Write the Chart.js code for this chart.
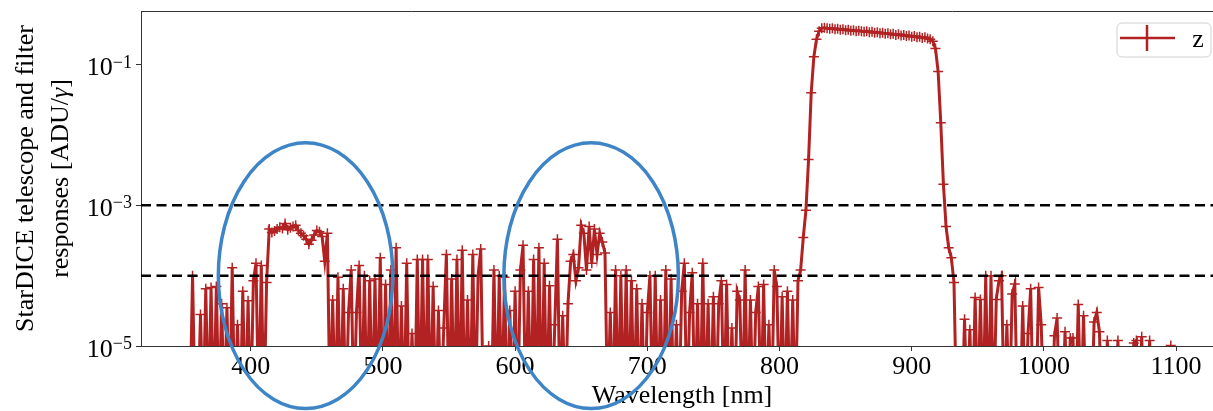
<!DOCTYPE html>
<html>
<head>
<meta charset="utf-8">
<script src="https://cdn.jsdelivr.net/npm/chart.js@4.4.0/dist/chart.umd.min.js"></script>
<style>
  html, body { margin: 0; padding: 0; background: #fff; overflow: hidden; }
  #caja { width: 1224px; height: 411px; }
  #respuesta { display: block; width: 1224px; height: 411px; }
</style>
</head>
<body>
<div id="caja"><canvas id="respuesta" width="1224" height="411"></canvas></div>
<script>
// longitud de onda [nm]
const longitudes = [
    354, 356, 358, 360, 362, 364, 366, 368, 370, 372, 374, 376, 378, 380, 382, 384, 386, 388, 390, 392,
    394, 396, 398, 400, 402, 404, 406, 408, 410, 412, 414, 416, 418, 420, 422, 424, 426, 428, 430, 432,
    434, 436, 438, 440, 442, 444, 446, 448, 450, 452, 454, 456, 458, 460, 462, 464, 466, 468, 470, 472,
    474, 476, 478, 480, 482, 484, 486, 488, 490, 492, 494, 496, 498, 500, 502, 504, 506, 508, 510, 512,
    514, 516, 518, 520, 522, 524, 526, 528, 530, 532, 534, 536, 538, 540, 542, 544, 546, 548, 550, 552,
    554, 556, 558, 560, 562, 564, 566, 568, 570, 572, 574, 576, 578, 580, 582, 584, 586, 588, 590, 592,
    594, 596, 598, 600, 602, 604, 606, 608, 610, 612, 614, 616, 618, 620, 622, 624, 626, 628, 630, 632,
    634, 636, 638, 640, 642, 644, 646, 648, 650, 652, 654, 656, 658, 660, 662, 664, 666, 668, 670, 672,
    674, 676, 678, 680, 682, 684, 686, 688, 690, 692, 694, 696, 698, 700, 702, 704, 706, 708, 710, 712,
    714, 716, 718, 720, 722, 724, 726, 728, 730, 732, 734, 736, 738, 740, 742, 744, 746, 748, 750, 752,
    754, 756, 758, 760, 762, 764, 766, 768, 770, 772, 774, 776, 778, 780, 782, 784, 786, 788, 790, 792,
    794, 796, 798, 800, 802, 804, 806, 808, 810, 812, 814, 816, 818, 820, 822, 824, 826, 828, 830, 832,
    834, 836, 838, 840, 842, 844, 846, 848, 850, 852, 854, 856, 858, 860, 862, 864, 866, 868, 870, 872,
    874, 876, 878, 880, 882, 884, 886, 888, 890, 892, 894, 896, 898, 900, 902, 904, 906, 908, 910, 912,
    914, 916, 918, 920, 922, 924, 926, 928, 930, 932, 934, 936, 938, 940, 942, 944, 946, 948, 950, 952,
    954, 956, 958, 960, 962, 964, 966, 968, 970, 972, 974, 976, 978, 980, 982, 984, 986, 988, 990, 992,
    994, 996, 998, 1000, 1002, 1004, 1006, 1008, 1010, 1012, 1014, 1016, 1018, 1020, 1022, 1024, 1026, 1028, 1030, 1032,
    1034, 1036, 1038, 1040, 1042, 1044, 1046, 1048, 1050, 1052, 1054, 1056, 1058, 1060, 1062, 1064, 1066, 1068, 1070, 1072,
    1074, 1076, 1078, 1080, 1082, 1084, 1086, 1088, 1090, 1092, 1094, 1096, 1098
];

// respuesta telescopio + filtro z [ADU/gamma], 1e-6 = por debajo del eje
const respuestaZ = [
    1e-6, 1.0e-4, 1e-6, 1e-6, 2.8e-5, 1e-6, 6.5e-5, 1e-6, 6.8e-5, 1e-6, 7.0e-5, 1e-6, 4.0e-5, 1e-6, 3.5e-5, 1e-6, 1.3e-4, 1e-6, 2.0e-5, 1e-6,
    6.0e-5, 1e-6, 4.4e-5, 1e-6, 8.5e-5, 1.5e-4, 1e-6, 1.4e-4, 1e-6, 8.0e-5, 4.6e-4, 4.1e-4, 4.3e-4, 4.6e-4, 4.9e-4, 4.7e-4, 5.5e-4, 4.5e-4, 4.8e-4, 5.0e-4,
    5.2e-4, 4.4e-4, 4.0e-4, 3.7e-4, 3.3e-4, 2.8e-4, 3.2e-4, 3.8e-4, 4.4e-4, 4.2e-4, 3.6e-4, 1.6e-4, 4.0e-4, 1e-6, 4.5e-5, 1e-6, 9.5e-5, 1e-6, 6.5e-5, 1e-6,
    3.0e-5, 1.2e-4, 1e-6, 3.0e-5, 1.4e-4, 1e-6, 1.0e-4, 1e-6, 8.5e-5, 1e-6, 9.0e-5, 1e-6, 1.8e-4, 1e-6, 7.5e-5, 1e-6, 1.2e-4, 1e-6, 2.5e-4, 1e-6,
    3.7e-5, 1e-6, 1.5e-4, 1e-6, 1.5e-5, 1e-6, 1.7e-4, 1e-6, 1.7e-4, 1e-6, 1.7e-4, 1e-6, 7.0e-5, 1e-6, 3.2e-5, 1e-6, 1.8e-5, 2.0e-4, 1e-6, 9.0e-5,
    1e-6, 1.7e-4, 1e-6, 2.3e-4, 1e-6, 4.5e-5, 1e-6, 2.0e-4, 1e-6, 1.0e-4, 2.4e-4, 1e-6, 1e-6, 1.0e-5, 1e-6, 1.2e-4, 1e-6, 1.0e-4, 1e-6, 9.5e-5,
    1e-6, 3.2e-5, 1e-6, 6.0e-5, 1e-6, 1.2e-4, 2.7e-4, 1e-6, 6.0e-5, 1e-6, 1.7e-4, 1e-6, 2.5e-4, 1e-6, 1.5e-4, 1e-6, 7.2e-5, 1e-6, 2.0e-5, 3.3e-4,
    1e-6, 2.7e-5, 1e-6, 4.0e-5, 1.6e-4, 2.0e-4, 8.5e-5, 1.3e-4, 5.2e-4, 4.0e-4, 1.2e-4, 5.0e-4, 1.5e-4, 4.6e-4, 2.0e-4, 4.0e-4, 3.0e-4, 2.1e-4, 1e-6, 3.0e-5,
    1e-6, 1.2e-4, 1e-6, 1.0e-4, 1e-6, 1.2e-4, 1e-6, 8.5e-5, 1e-6, 6.5e-5, 1e-6, 4.0e-5, 1e-6, 3.0e-5, 1.0e-4, 1e-6, 1.0e-4, 1e-6, 4.5e-5, 1e-6,
    1.2e-4, 1e-6, 9.0e-5, 1e-6, 2.0e-5, 1e-6, 6.0e-5, 1.5e-4, 1e-6, 3.0e-5, 1.1e-4, 1e-6, 4.0e-5, 1e-6, 1.5e-4, 1e-6, 4.0e-5, 1e-6, 5.0e-5, 1e-6,
    4.0e-5, 8.5e-5, 1e-6, 7.5e-5, 1e-6, 1.8e-5, 1e-6, 6.0e-5, 4.5e-5, 1e-6, 1.2e-4, 1e-6, 4.5e-5, 1e-6, 3.0e-5, 7.0e-5, 1e-6, 7.5e-5, 1e-6, 2.0e-5,
    1e-6, 1.2e-4, 7.0e-5, 1e-6, 5.0e-5, 1e-6, 6.0e-5, 1e-6, 4.5e-5, 1e-6, 8.5e-5, 1.2e-4, 3.5e-4, 8.5e-4, 4.5e-3, 0.04, 0.13, 0.23, 0.30, 0.33,
    0.335, 0.33, 0.325, 0.33, 0.32, 0.325, 0.315, 0.32, 0.31, 0.315, 0.305, 0.31, 0.30, 0.305, 0.30, 0.295, 0.30, 0.29, 0.295, 0.285,
    0.29, 0.28, 0.285, 0.275, 0.28, 0.27, 0.275, 0.265, 0.27, 0.26, 0.265, 0.255, 0.26, 0.25, 0.255, 0.245, 0.25, 0.24, 0.245, 0.235,
    0.23, 0.215, 0.17, 0.08, 0.015, 2.0e-3, 5.0e-4, 2.5e-4, 1.8e-4, 8.0e-5, 1e-6, 1e-6, 1e-6, 2.4e-5, 1e-6, 1.7e-5, 1e-6, 4.9e-5, 1e-6, 4.6e-5,
    1e-6, 1.0e-4, 1e-6, 1.0e-4, 1e-6, 4.6e-5, 8.5e-5, 1.0e-4, 1e-6, 2.0e-5, 1e-6, 5.5e-5, 7.6e-5, 1e-6, 1e-6, 3.7e-5, 1e-6, 1.5e-5, 6.5e-5, 1e-6,
    1e-6, 6.8e-5, 2.0e-5, 1e-6, 1e-6, 1e-6, 1e-6, 1.4e-5, 2.5e-5, 1e-6, 1e-6, 1.6e-5, 1e-6, 1.3e-5, 1.3e-5, 1e-6, 3.9e-5, 1e-6, 2.7e-5, 1e-6,
    1e-6, 1e-6, 2.2e-5, 3.0e-5, 1.6e-5, 1e-6, 1e-6, 1.2e-5, 1e-6, 1e-6, 1e-6, 1.2e-5, 1e-6, 1e-6, 1e-6, 1e-6, 1e-6, 1.1e-5, 1.2e-5, 1e-6,
    1.35e-5, 1e-6, 1e-6, 1.2e-5, 1e-6, 1e-6, 1e-6, 1e-6, 1e-6, 1e-6, 1e-6, 1.02e-5, 1e-6
];

// lineas de corte discontinuas
const nivelesCorte = [1e-3, 1e-4];

const ticksX = [400, 500, 600, 700, 800, 900, 1000, 1100];
const ticksY = [1e-5, 1e-3, 1e-1];

const xMin = 317;
const xMax = 1135.5;

// zonas marcadas con elipse (centro y semiejes en unidades de los ejes)
const elipses = [
    { centro: 441.5, semiAncho: 66, nivel: 1e-4, decadas: 1.89 },
    { centro: 657.5, semiAncho: 66, nivel: 1e-4, decadas: 1.89 }
];

const rojo = '#b22222';
const fuente = '"Liberation Serif", "Times New Roman", serif';

// etiquetas 10^n del eje y y titulo vertical (gamma en cursiva)
const ejeVertical = {
    id: 'ejeVertical',
    afterDraw(chart) {
        const ctx = chart.ctx;
        const ejeY = chart.scales.y;
        ctx.save();
        ctx.fillStyle = '#000';
        ctx.textAlign = 'right';
        ctx.textBaseline = 'alphabetic';
        ejeY.ticks.forEach(t => {
            const py = ejeY.getPixelForValue(t.value);
            const exp = '\u2212' + Math.abs(Math.round(Math.log10(t.value)));
            ctx.font = '18px ' + fuente;
            ctx.fillText(exp, ejeY.right - 9, py + 3);
            const ancho = ctx.measureText(exp).width;
            ctx.font = '26px ' + fuente;
            ctx.fillText('10', ejeY.right - 9 - ancho, py + 10.5);
        });

        const medio = (ejeY.top + ejeY.bottom) / 2;
        ctx.translate(0, medio);
        ctx.rotate(-Math.PI / 2);
        ctx.textBaseline = 'middle';
        ctx.textAlign = 'center';
        ctx.font = '26px ' + fuente;
        ctx.fillText('StarDICE telescope and filter', 0, 26);

        // segunda linea por partes
        const partes = [
            { txt: 'responses [ADU/', fnt: '26px ' + fuente },
            { txt: '\u03b3', fnt: 'italic 26px ' + fuente },
            { txt: ']', fnt: '26px ' + fuente }
        ];
        let total = 0;
        partes.forEach(p => { ctx.font = p.fnt; p.w = ctx.measureText(p.txt).width; total += p.w; });
        let x = -total / 2;
        ctx.textAlign = 'left';
        partes.forEach(p => { ctx.font = p.fnt; ctx.fillText(p.txt, x, 61); x += p.w; });
        ctx.restore();
    }
};

// borde superior, leyenda y elipses
const extras = {
    id: 'extras',
    afterDatasetsDraw(chart) {
        const ctx = chart.ctx;
        const area = chart.chartArea;
        ctx.save();
        ctx.strokeStyle = '#333';
        ctx.lineWidth = 1;
        ctx.beginPath();
        ctx.moveTo(area.left, area.top + 0.5);
        ctx.lineTo(area.right, area.top + 0.5);
        ctx.stroke();

        // leyenda
        const bx = area.right - 106, by = area.top + 12, bw = 94, bh = 34;
        ctx.fillStyle = 'rgba(255,255,255,0.8)';
        ctx.strokeStyle = '#d0d0d0';
        ctx.beginPath();
        ctx.roundRect(bx, by, bw, bh, 5);
        ctx.fill();
        ctx.stroke();
        ctx.strokeStyle = rojo;
        ctx.lineWidth = 2.5;
        ctx.beginPath();
        ctx.moveTo(bx + 3, by + 15);
        ctx.lineTo(bx + 58, by + 15);
        ctx.moveTo(bx + 30, by + 2);
        ctx.lineTo(bx + 30, by + 28);
        ctx.stroke();
        ctx.fillStyle = '#000';
        ctx.font = '26px ' + fuente;
        ctx.textAlign = 'center';
        ctx.textBaseline = 'alphabetic';
        ctx.fillText(chart.data.datasets[chart.data.datasets.length - 1].label, bx + 81, by + 24);
        ctx.restore();
    },
    afterDraw(chart) {
        const ctx = chart.ctx;
        const ejeX = chart.scales.x;
        const ejeY = chart.scales.y;
        ctx.save();
        ctx.strokeStyle = '#3d85c6';
        ctx.lineWidth = 3.5;
        elipses.forEach(e => {
            const cx = ejeX.getPixelForValue(e.centro);
            const rx = ejeX.getPixelForValue(e.centro + e.semiAncho) - cx;
            const cy = ejeY.getPixelForValue(e.nivel);
            const ry = cy - ejeY.getPixelForValue(e.nivel * Math.pow(10, e.decadas));
            ctx.beginPath();
            ctx.ellipse(cx, cy, rx, ry, 0, 0, Math.PI * 2);
            ctx.stroke();
        });
        ctx.restore();
    }
};

const lineasCorte = nivelesCorte.map(nivel => ({
    label: 'corte',
    data: [{ x: xMin, y: nivel }, { x: xMax, y: nivel }],
    borderColor: '#000',
    borderWidth: 2.5,
    borderDash: [10, 5.5],
    pointRadius: 0,
    order: 0
}));

const grafica = new Chart(document.getElementById('respuesta'), {
    type: 'line',
    data: {
        datasets: [
            ...lineasCorte,
            {
                label: 'z',
                data: longitudes.map((l, i) => ({ x: l, y: respuestaZ[i] })),
                borderColor: rojo,
                borderWidth: 3,
                pointStyle: 'cross',
                pointRadius: 5,
                pointBorderWidth: 1.5,
                pointBorderColor: rojo,
                pointBackgroundColor: rojo,
                tension: 0,
                order: 1
            }
        ]
    },
    options: {
        responsive: false,
        animation: false,
        events: [],
        layout: { autoPadding: false, padding: { top: 11, right: 1, left: 0, bottom: 0 } },
        plugins: {
            legend: { display: false },
            tooltip: { enabled: false }
        },
        scales: {
            x: {
                type: 'linear',
                min: xMin,
                max: xMax,
                afterBuildTicks: eje => { eje.ticks = ticksX.map(v => ({ value: v })); },
                afterFit: eje => { eje.height = 65; eje.paddingLeft = 0; eje.paddingRight = 0; },
                grid: { drawOnChartArea: false, tickLength: 5, color: '#333' },
                border: { color: '#333' },
                ticks: {
                    color: '#000',
                    font: { family: fuente, size: 26 },
                    padding: 1,
                    autoSkip: false,
                    maxRotation: 0,
                    callback: v => String(v)
                },
                title: {
                    display: true,
                    text: 'Wavelength [nm]',
                    color: '#000',
                    font: { family: fuente, size: 26, lineHeight: 1.14 },
                    padding: 0
                }
            },
            y: {
                type: 'logarithmic',
                min: 1e-5,
                max: 0.58,
                afterBuildTicks: eje => { eje.ticks = ticksY.map(v => ({ value: v })); },
                afterFit: eje => { eje.width = 141; eje.paddingTop = 0; eje.paddingBottom = 0; },
                grid: { drawOnChartArea: false, tickLength: 5, color: '#333' },
                border: { color: '#333' },
                ticks: { display: false },
                title: { display: false }
            }
        }
    },
    plugins: [ejeVertical, extras]
});
</script>
</body>
</html>
